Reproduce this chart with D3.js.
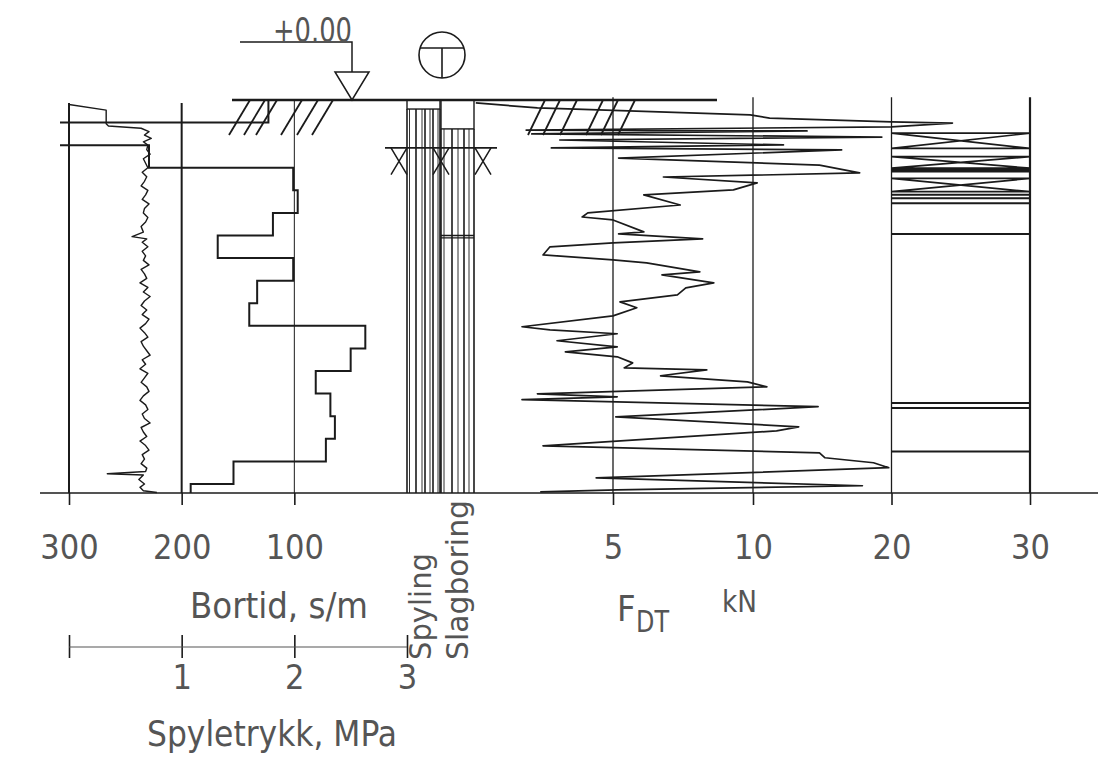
<!DOCTYPE html>
<html>
<head>
<meta charset="utf-8">
<script src="https://cdn.jsdelivr.net/npm/d3@7"></script>
<style>
body { margin: 0; background: #fff; }
text { font-family: "Liberation Sans Narrow", "DejaVu Sans Condensed", sans-serif; fill: #555; }
</style>
</head>
<body>
<div id="sounding"></div>
<script>
// ---- data (depth in m) ----
var bortidTicks = [300, 200, 100];
var pressTicks = [0, 1, 2, 3];
var fdtTicks = [5, 10, 20, 30];

// drilling time, s/m, step per metre
var bortidDepth = [0, 1, 2, 3, 4, 5, 6, 7, 8, 9, 10, 11, 12, 13, 14, 15, 16, 17, 17.4];
var bortidValue = [123, 315, 229, 101, 97, 119, 168, 101, 133, 140, 37, 50, 81, 68, 64, 72, 154, 192, 192];

// flushing pressure, MPa
var pressDepth = [0.2, 0.45, 1.05, 1.15, 1.25, 1.4, 1.55, 1.7, 1.85, 2.0,
  2.2, 2.4, 2.6, 2.8, 3.0, 3.2, 3.4, 3.6, 3.8, 4.0, 4.2, 4.4, 4.6, 4.8, 5.0, 5.2, 5.4, 5.6,
  5.85, 6.05, 6.15, 6.3,
  6.5, 6.7, 6.9, 7.1, 7.3, 7.5, 7.7, 7.9, 8.1, 8.3,
  8.5, 8.7, 8.9, 9.1, 9.3, 9.5, 9.7, 9.9, 10.1, 10.3,
  10.5, 10.7, 10.9, 11.1, 11.3, 11.5, 11.7, 11.9, 12.1, 12.3,
  12.5, 12.7, 12.9, 13.1, 13.3, 13.5, 13.7, 13.9, 14.1, 14.3,
  14.5, 14.7, 14.9, 15.1, 15.3, 15.5, 15.7, 15.9, 16.1, 16.3,
  16.45, 16.55, 16.6, 16.8, 17.0, 17.15, 17.3, 17.38];
var pressValue = [0, 0.33, 0.33, 0.35, 0.64, 0.71, 0.67, 0.73, 0.66, 0.70,
  0.69, 0.72, 0.66, 0.68, 0.70, 0.65, 0.69, 0.67, 0.64, 0.70, 0.68, 0.65, 0.71, 0.67, 0.66, 0.70, 0.68, 0.64,
  0.66, 0.56, 0.69, 0.65,
  0.70, 0.65, 0.68, 0.66, 0.71, 0.64, 0.67, 0.69, 0.63, 0.70,
  0.66, 0.72, 0.67, 0.64, 0.69, 0.65, 0.71, 0.68, 0.63, 0.67,
  0.70, 0.64, 0.66, 0.69, 0.72, 0.65, 0.68, 0.63, 0.70, 0.67,
  0.64, 0.69, 0.71, 0.66, 0.63, 0.68, 0.70, 0.65, 0.67, 0.72,
  0.64, 0.66, 0.69, 0.63, 0.68, 0.71, 0.65, 0.67, 0.64, 0.69,
  0.68, 0.34, 0.66, 0.62, 0.67, 0.63, 0.66, 0.78];

// F_DT, kN
var fdtDepth = [0.13, 0.35, 0.66, 0.80, 0.97, 1.02, 1.19, 1.33, 1.37, 1.50, 1.64, 1.77, 1.99, 2.12, 2.21,
  2.57, 2.88, 3.23, 3.41, 3.67, 3.98, 4.20, 4.65, 5.00, 5.18, 5.31, 5.84, 5.93, 6.15, 6.33,
  6.50, 6.86, 7.08, 7.21, 7.61, 7.74, 8.10, 8.32, 8.63, 8.94, 9.20, 9.56, 10.04, 10.18, 10.35,
  10.66, 10.93, 11.15, 11.37, 11.64, 11.86, 11.95, 12.21, 12.48, 12.70, 13.01, 13.14, 13.27, 13.58,
  14.03, 14.47, 14.65, 15.31, 15.62, 15.84, 16.06, 16.28, 16.73, 17.08, 17.26, 17.35];
var fdtForce = [0.1, 2.3, 9.9, 11.2, 20.0, 24.4, 20.0, 1.9, 13.9, 2.1, 19.3, 3.1, 12.2, 2.8, 16.4,
  5.2, 14.8, 17.7, 6.8, 10.3, 9.3, 6.1, 7.4, 4.1, 3.9, 5.0, 6.1, 5.2, 8.2, 5.0,
  2.75, 2.5, 5.0, 6.2, 8.1, 6.75, 8.6, 7.6, 7.3, 5.25, 5.85, 5.0, 1.75, 2.75, 5.15,
  3.0, 5.15, 3.3, 5.15, 5.7, 5.4, 8.35, 6.7, 9.8, 11.0, 2.3, 5.15, 1.75, 14.7,
  5.1, 13.3, 11.7, 2.5, 14.8, 15.2, 18.7, 19.8, 4.4, 17.9, 5.15, 2.4];

// 20-30 kN band: crossed blocks and single strokes
var bandCross = [[1.47, 2.14], [2.51, 3.02], [3.47, 4.06]];
var bandLines = [3.10, 3.17, 4.20, 4.35, 4.57, 5.93, 13.42, 13.64, 15.56];

// method columns
var spylingFrom = 0.4;
var slagFrom = 1.28;
var slagMark = [6.0, 6.1];
var markDepth = [2.12, 3.3];
var endDepth = 17.4;

// ---- drawing ----
var svg = d3.select("#sounding").append("svg")
    .attr("width", 1098)
    .attr("height", 775);

var ink = "#1b1b1b";

var y = d3.scaleLinear().domain([0, endDepth]).range([100, 493]);
var xBortid = d3.scaleLinear().domain([0, 300]).range([407, 69]);
var xPress = d3.scaleLinear().domain([0, 3]).range([69, 407]);
var xFdt = d3.scaleLinear().domain([0, 10, 30]).range([473, 753, 1030]);

// off-scale drilling time is cut at the left edge
svg.append("clipPath").attr("id", "leftClip")
    .append("rect").attr("x", 60).attr("y", 0).attr("width", 400).attr("height", 600);

// base line
svg.append("line")
    .attr("x1", 40).attr("x2", 1098)
    .attr("y1", y(endDepth)).attr("y2", y(endDepth))
    .attr("stroke", ink).attr("stroke-width", 1.5);

// vertical grid lines
svg.selectAll(".gridB").data(bortidTicks).enter().append("line")
    .attr("class", "gridB")
    .attr("x1", function(d) { return xBortid(d); })
    .attr("x2", function(d) { return xBortid(d); })
    .attr("y1", function(d) { return d == 100 ? y(0) : y(0.13); })
    .attr("y2", y(endDepth))
    .attr("stroke", ink)
    .attr("stroke-width", function(d) { return d == 100 ? 1 : 2; });

svg.selectAll(".gridF").data(fdtTicks).enter().append("line")
    .attr("class", "gridF")
    .attr("x1", function(d) { return xFdt(d); })
    .attr("x2", function(d) { return xFdt(d); })
    .attr("y1", y(-0.12))
    .attr("y2", y(endDepth))
    .attr("stroke", ink)
    .attr("stroke-width", function(d) { return d == 30 ? 2.2 : 1.3; });

// axes
var bortidAxis = svg.append("g")
    .attr("transform", "translate(0," + y(endDepth) + ")")
    .call(d3.axisBottom(xBortid).tickValues(bortidTicks).tickSizeInner(12).tickSizeOuter(0).tickPadding(30));
bortidAxis.attr("font-size", 34).attr("font-family", null);
bortidAxis.select(".domain").remove();
bortidAxis.selectAll("line").attr("stroke", ink).attr("stroke-width", 1.6);

var fdtAxis = svg.append("g")
    .attr("transform", "translate(0," + y(endDepth) + ")")
    .call(d3.axisBottom(xFdt).tickValues(fdtTicks).tickSizeInner(12).tickSizeOuter(0).tickPadding(30));
fdtAxis.attr("font-size", 34).attr("font-family", null);
fdtAxis.select(".domain").remove();
fdtAxis.selectAll("line").attr("stroke", ink).attr("stroke-width", 1.6);

var pressAxis = svg.append("g")
    .attr("transform", "translate(0,635)")
    .call(d3.axisBottom(xPress).tickValues(pressTicks).tickSizeInner(23).tickSizeOuter(0).tickPadding(7)
        .tickFormat(function(d) { return d == 0 ? "" : d; }));
pressAxis.attr("font-size", 34).attr("font-family", null);
pressAxis.select(".domain").remove();
pressAxis.selectAll("line").attr("stroke", ink).attr("stroke-width", 1.6);
svg.append("line")
    .attr("x1", xPress(0)).attr("x2", xPress(3))
    .attr("y1", 647).attr("y2", 647)
    .attr("stroke", "#555").attr("stroke-width", 1.2);

// ground line with hatching
svg.append("line")
    .attr("x1", 232).attr("x2", 717)
    .attr("y1", y(0)).attr("y2", y(0))
    .attr("stroke", ink).attr("stroke-width", 2.6);

var hatchTop = [250, 265, 277, 302, 318, 333, 545, 560, 577, 603, 618, 635];
svg.selectAll(".hatch").data(hatchTop).enter().append("line")
    .attr("class", "hatch")
    .attr("x1", function(d) { return d; })
    .attr("y1", y(0))
    .attr("x2", function(d) { return d < 400 ? d - 21 : d - 17; })
    .attr("y2", 135)
    .attr("stroke", ink).attr("stroke-width", 1.8);

// level symbol +0.00
svg.append("path")
    .attr("d", "M240,42H352V72")
    .attr("fill", "none").attr("stroke", ink).attr("stroke-width", 1.5);
svg.append("path")
    .attr("d", "M335,72H369L352,100Z")
    .attr("fill", "#fff").attr("stroke", ink).attr("stroke-width", 1.5);
svg.append("text")
    .attr("x", 273).attr("y", 42)
    .attr("font-size", 34)
    .attr("textLength", 79).attr("lengthAdjust", "spacingAndGlyphs")
    .text("+0.00");

// method symbol
svg.append("circle")
    .attr("cx", 442).attr("cy", 55).attr("r", 23)
    .attr("fill", "none").attr("stroke", ink).attr("stroke-width", 1.6);
svg.append("path")
    .attr("d", "M420,48H464M442,48V78")
    .attr("fill", "none").attr("stroke", ink).attr("stroke-width", 1.6);

// method columns (Spyling / Slagboring)
var colA = xBortid(0), colB = 441, colC = xFdt(0) + 1;
svg.append("rect")
    .attr("x", colA).attr("y", y(0))
    .attr("width", colB - colA - 1).attr("height", y(spylingFrom) - y(0))
    .attr("fill", "none").attr("stroke", ink).attr("stroke-width", 1.4);
svg.append("rect")
    .attr("x", colB).attr("y", y(0))
    .attr("width", colC - colB).attr("height", y(slagFrom) - y(0))
    .attr("fill", "none").attr("stroke", ink).attr("stroke-width", 1.4);

var spylingLines = [0, 2.5, 9, 15, 18, 23, 26, 31, 33];
svg.selectAll(".spy").data(spylingLines).enter().append("line")
    .attr("class", "spy")
    .attr("x1", function(d) { return colA + d; })
    .attr("x2", function(d) { return colA + d; })
    .attr("y1", y(spylingFrom)).attr("y2", y(endDepth))
    .attr("stroke", ink)
    .attr("stroke-width", function(d, i) { return i % 2 ? 0.9 : 1.6; });

var slagLines = [0, 3, 11, 17, 23, 28, 33];
svg.selectAll(".slag").data(slagLines).enter().append("line")
    .attr("class", "slag")
    .attr("x1", function(d) { return colB + d; })
    .attr("x2", function(d) { return colB + d; })
    .attr("y1", y(slagFrom)).attr("y2", y(endDepth))
    .attr("stroke", ink)
    .attr("stroke-width", function(d, i) { return i % 2 ? 0.9 : 1.6; });

svg.selectAll(".slagMark").data(slagMark).enter().append("line")
    .attr("class", "slagMark")
    .attr("x1", colB).attr("x2", colC)
    .attr("y1", function(d) { return y(d); })
    .attr("y2", function(d) { return y(d); })
    .attr("stroke", ink).attr("stroke-width", 1.3);

// crossed marks at the columns
svg.append("line")
    .attr("x1", 385).attr("x2", 497)
    .attr("y1", y(markDepth[0])).attr("y2", y(markDepth[0]))
    .attr("stroke", ink).attr("stroke-width", 1.6);
var markX = [399, 441, 483];
svg.selectAll(".xmark").data(markX).enter().append("path")
    .attr("class", "xmark")
    .attr("d", function(d) {
        var t = y(markDepth[0]), b = y(markDepth[1]);
        return "M" + (d - 8) + "," + t + "L" + (d + 8) + "," + b +
               "M" + (d + 8) + "," + t + "L" + (d - 8) + "," + b;
    })
    .attr("fill", "none").attr("stroke", ink).attr("stroke-width", 1.5);

// drilling time steps
var bortidData = d3.zip(bortidDepth, bortidValue);
svg.append("path")
    .datum(bortidData)
    .attr("clip-path", "url(#leftClip)")
    .attr("fill", "none").attr("stroke", ink).attr("stroke-width", 2)
    .attr("d", d3.line()
        .curve(d3.curveStepBefore)
        .x(function(d) { return xBortid(d[1]); })
        .y(function(d) { return y(d[0]); }));

// flushing pressure
var pressData = d3.zip(pressDepth, pressValue);
svg.append("path")
    .datum(pressData)
    .attr("fill", "none").attr("stroke", ink).attr("stroke-width", 1.4)
    .attr("stroke-linejoin", "round")
    .attr("d", d3.line()
        .x(function(d) { return xPress(d[1]); })
        .y(function(d) { return y(d[0]); }));

// F_DT curve
var fdtData = d3.zip(fdtDepth, fdtForce);
svg.append("path")
    .datum(fdtData)
    .attr("fill", "none").attr("stroke", ink).attr("stroke-width", 1.7)
    .attr("stroke-linejoin", "round")
    .attr("d", d3.line()
        .x(function(d) { return xFdt(d[1]); })
        .y(function(d) { return y(d[0]); }));

// 20-30 kN band
svg.selectAll(".cross").data(bandCross).enter().append("path")
    .attr("class", "cross")
    .attr("d", function(d) {
        return "M" + xFdt(20) + "," + y(d[0]) + "H" + xFdt(30) +
               "L" + xFdt(20) + "," + y(d[1]) + "H" + xFdt(30) +
               "L" + xFdt(20) + "," + y(d[0]);
    })
    .attr("fill", "none").attr("stroke", ink).attr("stroke-width", 1.7);
svg.selectAll(".band").data(bandLines).enter().append("line")
    .attr("class", "band")
    .attr("x1", xFdt(20)).attr("x2", xFdt(30))
    .attr("y1", function(d) { return y(d); })
    .attr("y2", function(d) { return y(d); })
    .attr("stroke", ink).attr("stroke-width", 2);

// labels
svg.append("text")
    .attr("x", 190).attr("y", 618)
    .attr("font-size", 36)
    .attr("textLength", 178).attr("lengthAdjust", "spacingAndGlyphs")
    .text("Bortid, s/m");
svg.append("text")
    .attr("x", 147).attr("y", 746)
    .attr("font-size", 36)
    .attr("textLength", 250).attr("lengthAdjust", "spacingAndGlyphs")
    .text("Spyletrykk, MPa");
svg.append("text")
    .attr("transform", "translate(431,660) rotate(-90)")
    .attr("font-size", 30)
    .attr("textLength", 107).attr("lengthAdjust", "spacingAndGlyphs")
    .text("Spyling");
svg.append("text")
    .attr("transform", "translate(468,660) rotate(-90)")
    .attr("font-size", 30)
    .attr("textLength", 160).attr("lengthAdjust", "spacingAndGlyphs")
    .text("Slagboring");
svg.append("text")
    .attr("x", 617).attr("y", 621)
    .attr("font-size", 36)
    .text("F");
svg.append("text")
    .attr("x", 636).attr("y", 632)
    .attr("font-size", 30)
    .attr("textLength", 33).attr("lengthAdjust", "spacingAndGlyphs")
    .text("DT");
svg.append("text")
    .attr("x", 722).attr("y", 612)
    .attr("font-size", 30)
    .attr("textLength", 35).attr("lengthAdjust", "spacingAndGlyphs")
    .text("kN");
</script>
</body>
</html>
